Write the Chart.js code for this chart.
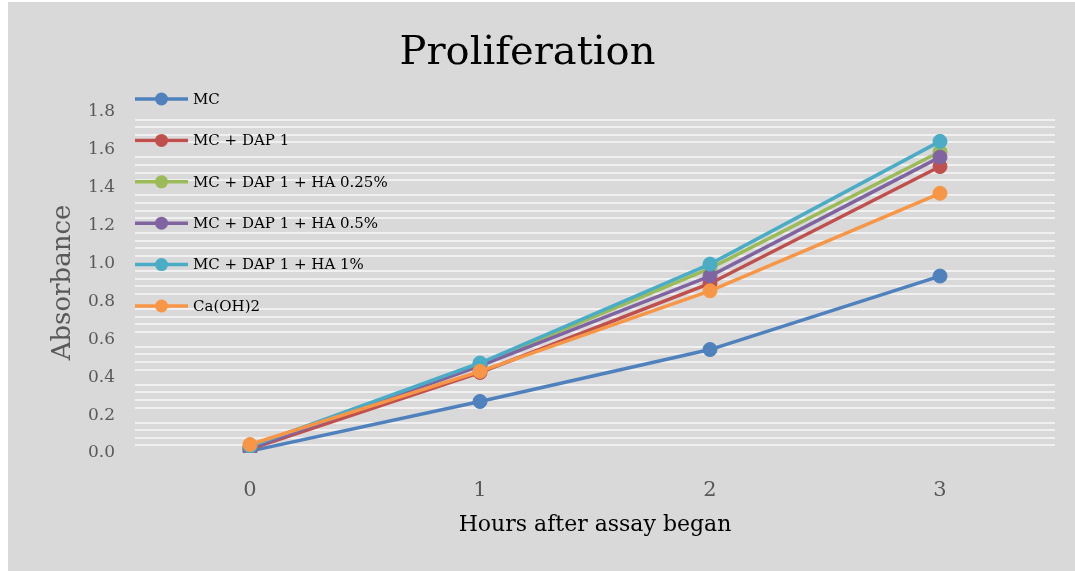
<!DOCTYPE html>
<html>
<head>
<meta charset="utf-8">
<title>Proliferation</title>
<script src="https://cdn.jsdelivr.net/npm/chart.js@4/dist/chart.umd.min.js"></script>
<style>
  html, body { margin: 0; padding: 0; background: #ffffff; }
  #wrap { width: 1075px; height: 571px; }
</style>
</head>
<body>
<div id="wrap"><canvas id="prolifChart" width="1075" height="571"></canvas></div>
<script>
'use strict';

// ── Data ────────────────────────────────────────────────────────────────────
const hours      = ['0', '1', '2', '3'];
const seriesMC   = [0.010, 0.272, 0.546, 0.934];
const seriesDap  = [0.020, 0.425, 0.895, 1.512];
const seriesHa25 = [0.030, 0.468, 0.975, 1.590];
const seriesHa5  = [0.025, 0.460, 0.934, 1.562];
const seriesHa1  = [0.035, 0.475, 0.997, 1.645];
const seriesCaOH = [0.045, 0.431, 0.856, 1.371];

const seriesNames = [
  'MC',
  'MC + DAP 1',
  'MC + DAP 1 + HA 0.25%',
  'MC + DAP 1 + HA 0.5%',
  'MC + DAP 1 + HA 1%',
  'Ca(OH)2',
];
const yMin = 0, yMax = 1.8, yMajor = 0.2, yMinor = 0.04;

// ── Theme ───────────────────────────────────────────────────────────────────
const THEME = {
  bg:     '#d9d9d9',
  grid:   '#f0f0f0',
  tick:   '#595959',
  text:   '#000000',
  font:   "'DejaVu Serif', 'Liberation Serif', serif",
};
const COLORS = ['#4f81bd', '#c0504d', '#9bbb59', '#8064a2', '#4bacc6', '#f79646'];

const allSeries = [seriesMC, seriesDap, seriesHa25, seriesHa5, seriesHa1, seriesCaOH];

const datasets = allSeries.map((data, i) => ({
  label: seriesNames[i],
  data,
  borderColor: COLORS[i],
  backgroundColor: COLORS[i],
  pointBackgroundColor: COLORS[i],
  pointBorderColor: COLORS[i],
  borderWidth: 3.5,
  pointRadius: 7,
  pointBorderWidth: 1,
  tension: 0,
  order: allSeries.length - i,   // later series on top, like the original
}));

const isMajor = v => Math.round(v * 100) % Math.round(yMajor * 100) === 0;

// ── Plugins: panel background + line/marker legend ──────────────────────────
const panelBg = {
  id: 'panelBg',
  beforeDraw(chart) {
    const { ctx, width, height } = chart;
    ctx.save();
    ctx.fillStyle = THEME.bg;
    ctx.fillRect(8, 2, width - 8, height - 2);
    ctx.restore();
  },
};

const lineLegend = {
  id: 'lineLegend',
  afterDraw(chart) {
    const { ctx } = chart;
    const x0 = 135, x1 = 188, top = 99, step = 41.4;
    ctx.save();
    ctx.font = `15px ${THEME.font}`;
    ctx.textBaseline = 'middle';
    ctx.textAlign = 'left';
    chart.data.datasets.forEach((ds, i) => {
      const y = top + i * step;
      ctx.strokeStyle = ds.borderColor;
      ctx.lineWidth = 3.5;
      ctx.beginPath();
      ctx.moveTo(x0, y);
      ctx.lineTo(x1, y);
      ctx.stroke();
      ctx.fillStyle = ds.borderColor;
      ctx.beginPath();
      ctx.arc((x0 + x1) / 2, y, 6.5, 0, Math.PI * 2);
      ctx.fill();
      ctx.fillStyle = THEME.text;
      ctx.fillText(ds.label, 193, y + 1);
    });
    ctx.restore();
  },
};

// ── Chart ───────────────────────────────────────────────────────────────────
const ctx = document.getElementById('prolifChart').getContext('2d');

new Chart(ctx, {
  type: 'line',
  data: { labels: hours, datasets },
  plugins: [panelBg, lineLegend],
  options: {
    responsive: false,
    animation: false,
    layout: { padding: { left: 0, right: 20, top: 0, bottom: 0 } },
    plugins: {
      legend: { display: false },
      tooltip: { enabled: false },
      title: {
        display: true,
        text: 'Proliferation',
        color: THEME.text,
        font: { family: THEME.font, size: 40, weight: 'normal', lineHeight: 1.2 },
        padding: { top: 30, bottom: 34 },
      },
    },
    scales: {
      x: {
        offset: true,
        grid: { display: false },
        border: { display: false },
        ticks: {
          color: THEME.tick,
          padding: 17,
          font: { family: THEME.font, size: 21 },
        },
        title: {
          display: true,
          text: 'Hours after assay began',
          color: THEME.text,
          font: { family: THEME.font, size: 22, lineHeight: 1.2 },
          padding: { top: 0, bottom: 33 },
        },
        afterFit(scale) { scale.height = 118; },
      },
      y: {
        min: yMin,
        max: yMax,
        border: { display: false },
        grid: {
          drawTicks: false,
          lineWidth: 2,
          color: c => (c.tick && isMajor(c.tick.value)) ? 'rgba(0,0,0,0)' : THEME.grid,
        },
        ticks: {
          stepSize: yMinor,
          autoSkip: false,
          padding: 20,
          color: THEME.tick,
          font: { family: THEME.font, size: 17 },
          callback: v => isMajor(v) ? (Math.round(v * 10) / 10).toFixed(1) : '',
        },
        title: {
          display: true,
          text: 'Absorbance',
          color: THEME.tick,
          font: { family: THEME.font, size: 26, lineHeight: 1.2 },
          padding: { top: 48, bottom: 0 },
        },
        afterFit(scale) { scale.width = 135; },
      },
    },
  },
});
</script>
</body>
</html>
